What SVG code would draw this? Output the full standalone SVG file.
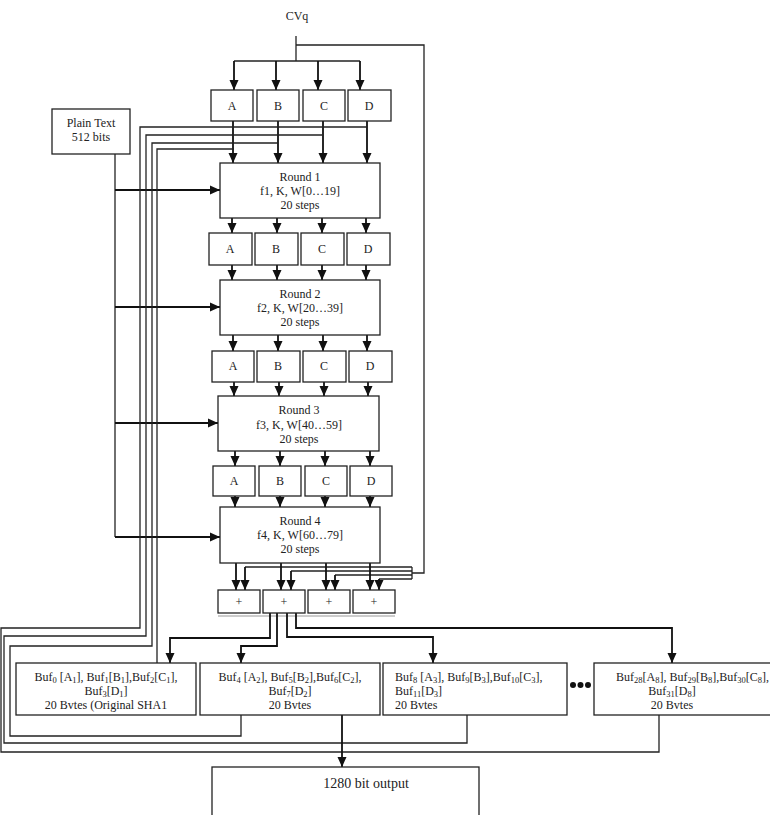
<svg xmlns="http://www.w3.org/2000/svg" width="770" height="815" viewBox="0 0 770 815">
<style>
.box{fill:#fff;stroke:#222;stroke-width:1.3}
.ln{fill:none;stroke:#222;stroke-width:1.3}
.ar{fill:none;stroke:#111;stroke-width:1.8;marker-end:url(#ah)}
.t{font-family:"Liberation Serif","Times New Roman",serif;font-size:12px;fill:#222;text-anchor:middle}
.b{font-family:"Liberation Serif","Times New Roman",serif;font-size:12px;fill:#222}
.s{font-size:8.5px}
</style>
<defs>
<marker id="ah" markerUnits="userSpaceOnUse" markerWidth="10" markerHeight="10" viewBox="0 0 10 10" refX="10" refY="5" orient="auto">
<path d="M0,0.5 L10,5 L0,9.5 Z" fill="#111"/>
</marker>
</defs>

<text class="t" x="297" y="20">CVq</text>

<g id="connectors">
<polyline class="ln" points="296,36 296,61"/>
<polyline class="ln" points="234,61 360,61"/>
<line class="ar" x1="234" y1="61" x2="234" y2="90"/>
<line class="ar" x1="276" y1="61" x2="276" y2="90"/>
<line class="ar" x1="318" y1="61" x2="318" y2="90"/>
<line class="ar" x1="360" y1="61" x2="360" y2="90"/>
<polyline class="ln" points="296,45 424,45 424,573 412,573"/>
<polyline class="ln" points="412,567 412,579"/>
<polyline class="ln" points="245,567 412,567"/>
<polyline class="ln" points="291,571 412,571"/>
<polyline class="ln" points="335,575 412,575"/>
<polyline class="ln" points="379,579 412,579"/>
<line class="ar" x1="245" y1="567" x2="245" y2="590"/>
<line class="ar" x1="291" y1="571" x2="291" y2="590"/>
<line class="ar" x1="335" y1="575" x2="335" y2="590"/>
<line class="ar" x1="379" y1="579" x2="379" y2="590"/>

<line class="ar" x1="233" y1="121" x2="233" y2="163"/>
<line class="ar" x1="278" y1="121" x2="278" y2="163"/>
<line class="ar" x1="323" y1="121" x2="323" y2="163"/>
<line class="ar" x1="367" y1="121" x2="367" y2="163"/>
<line class="ar" x1="232" y1="218" x2="232" y2="233"/>
<line class="ar" x1="277" y1="218" x2="277" y2="233"/>
<line class="ar" x1="322" y1="218" x2="322" y2="233"/>
<line class="ar" x1="366" y1="218" x2="366" y2="233"/>
<line class="ar" x1="232" y1="265" x2="232" y2="280"/>
<line class="ar" x1="277" y1="265" x2="277" y2="280"/>
<line class="ar" x1="322" y1="265" x2="322" y2="280"/>
<line class="ar" x1="366" y1="265" x2="366" y2="280"/>
<line class="ar" x1="233" y1="335" x2="233" y2="351"/>
<line class="ar" x1="278" y1="335" x2="278" y2="351"/>
<line class="ar" x1="323" y1="335" x2="323" y2="351"/>
<line class="ar" x1="367" y1="335" x2="367" y2="351"/>
<line class="ar" x1="234" y1="382" x2="234" y2="396"/>
<line class="ar" x1="279" y1="382" x2="279" y2="396"/>
<line class="ar" x1="324" y1="382" x2="324" y2="396"/>
<line class="ar" x1="368" y1="382" x2="368" y2="396"/>
<line class="ar" x1="235" y1="451" x2="235" y2="466"/>
<line class="ar" x1="280" y1="451" x2="280" y2="466"/>
<line class="ar" x1="325" y1="451" x2="325" y2="466"/>
<line class="ar" x1="370" y1="451" x2="370" y2="466"/>
<line class="ar" x1="235" y1="496" x2="235" y2="507"/>
<line class="ar" x1="280" y1="496" x2="280" y2="507"/>
<line class="ar" x1="325" y1="496" x2="325" y2="507"/>
<line class="ar" x1="370" y1="496" x2="370" y2="507"/>
<line class="ar" x1="236" y1="563" x2="236" y2="590"/>
<line class="ar" x1="281" y1="563" x2="281" y2="590"/>
<line class="ar" x1="326" y1="563" x2="326" y2="590"/>
<line class="ar" x1="370" y1="563" x2="370" y2="590"/>

<polyline class="ln" points="115,154 115,537"/>
<line class="ar" x1="115" y1="190" x2="220" y2="190"/>
<line class="ar" x1="115" y1="307" x2="220" y2="307"/>
<line class="ar" x1="115" y1="423" x2="218" y2="423"/>
<line class="ar" x1="115" y1="537" x2="220" y2="537"/>

<polyline class="ln" points="367,127 140,127 140,628 1,628 1,752 659,752 659,715"/>
<polyline class="ln" points="322,135 146,135 146,636 4,636 4,743 467,743 467,715"/>
<polyline class="ln" points="278,143 152,143 152,646 10,646 10,736 241,736 241,715"/>
<polyline class="ln" points="234,149 157,149 157,663"/>

<line x1="218" y1="616" x2="395" y2="616" stroke="#999" stroke-width="1"/>
<polyline class="ar" points="270,613 270,638 170,638 170,663"/>
<polyline class="ar" points="277,613 277,646 241,646 241,663"/>
<polyline class="ar" points="287,613 287,637 433,637 433,663"/>
<polyline class="ar" points="296,613 296,628 672,628 672,663"/>

<line class="ar" x1="342" y1="715" x2="342" y2="767"/>
</g>

<g id="cv-A"><rect class="box" x="211" y="90" width="42" height="31"/><text class="t" x="232" y="110">A</text></g>
<g id="cv-B"><rect class="box" x="257" y="90" width="42" height="31"/><text class="t" x="278" y="110">B</text></g>
<g id="cv-C"><rect class="box" x="303" y="90" width="42" height="31"/><text class="t" x="324" y="110">C</text></g>
<g id="cv-D"><rect class="box" x="348" y="90" width="43" height="31"/><text class="t" x="369" y="110">D</text></g>

<g id="plain-text"><rect class="box" x="52" y="109" width="78" height="45"/><text class="t" x="91" y="127">Plain Text</text><text class="t" x="91" y="141">512 bits</text></g>

<g id="round1"><rect class="box" x="220" y="163" width="160" height="55"/><text class="t" x="300" y="181">Round 1</text><text class="t" x="300" y="195">f1, K, W[0…19]</text><text class="t" x="300" y="209">20 steps</text></g>

<g id="r2-A"><rect class="box" x="209" y="233" width="43" height="32"/><text class="t" x="230" y="253">A</text></g>
<g id="r2-B"><rect class="box" x="255" y="233" width="43" height="32"/><text class="t" x="276" y="253">B</text></g>
<g id="r2-C"><rect class="box" x="301" y="233" width="43" height="32"/><text class="t" x="322" y="253">C</text></g>
<g id="r2-D"><rect class="box" x="347" y="233" width="43" height="32"/><text class="t" x="368" y="253">D</text></g>

<g id="round2"><rect class="box" x="220" y="280" width="160" height="55"/><text class="t" x="300" y="298">Round 2</text><text class="t" x="300" y="312">f2, K, W[20…39]</text><text class="t" x="300" y="326">20 steps</text></g>

<g id="r3-A"><rect class="box" x="212" y="351" width="42" height="31"/><text class="t" x="233" y="370">A</text></g>
<g id="r3-B"><rect class="box" x="257" y="351" width="43" height="31"/><text class="t" x="278" y="370">B</text></g>
<g id="r3-C"><rect class="box" x="303" y="351" width="43" height="31"/><text class="t" x="324" y="370">C</text></g>
<g id="r3-D"><rect class="box" x="349" y="351" width="43" height="31"/><text class="t" x="370" y="370">D</text></g>

<g id="round3"><rect class="box" x="218" y="396" width="161" height="55"/><text class="t" x="299" y="414">Round 3</text><text class="t" x="299" y="429">f3, K, W[40…59]</text><text class="t" x="299" y="443">20 steps</text></g>

<g id="r4-A"><rect class="box" x="213" y="466" width="42" height="30"/><text class="t" x="234" y="485">A</text></g>
<g id="r4-B"><rect class="box" x="259" y="466" width="42" height="30"/><text class="t" x="280" y="485">B</text></g>
<g id="r4-C"><rect class="box" x="305" y="466" width="42" height="30"/><text class="t" x="326" y="485">C</text></g>
<g id="r4-D"><rect class="box" x="350" y="466" width="42" height="30"/><text class="t" x="371" y="485">D</text></g>

<g id="round4"><rect class="box" x="220" y="507" width="160" height="56"/><text class="t" x="300" y="525">Round 4</text><text class="t" x="300" y="539">f4, K, W[60…79]</text><text class="t" x="300" y="553">20 steps</text></g>

<g id="plus1"><rect class="box" x="218" y="590" width="42" height="23"/><text class="t" x="239" y="606">+</text></g>
<g id="plus2"><rect class="box" x="263" y="590" width="42" height="23"/><text class="t" x="284" y="606">+</text></g>
<g id="plus3"><rect class="box" x="308" y="590" width="42" height="23"/><text class="t" x="329" y="606">+</text></g>
<g id="plus4"><rect class="box" x="353" y="590" width="42" height="23"/><text class="t" x="374" y="606">+</text></g>

<g id="buf0"><rect class="box" x="16" y="663" width="180" height="52"/>
<text class="b" text-anchor="middle" x="106" y="681">Buf<tspan class="s" dy="2">0</tspan><tspan dy="-2"> [A</tspan><tspan class="s" dy="2">1</tspan><tspan dy="-2">], Buf</tspan><tspan class="s" dy="2">1</tspan><tspan dy="-2">[B</tspan><tspan class="s" dy="2">1</tspan><tspan dy="-2">],Buf</tspan><tspan class="s" dy="2">2</tspan><tspan dy="-2">[C</tspan><tspan class="s" dy="2">1</tspan><tspan dy="-2">],</tspan></text>
<text class="b" text-anchor="middle" x="106" y="695">Buf<tspan class="s" dy="2">3</tspan><tspan dy="-2">[D</tspan><tspan class="s" dy="2">1</tspan><tspan dy="-2">]</tspan></text>
<text class="b" text-anchor="middle" x="106" y="709">20 Bvtes (Original SHA1</text>
</g>

<g id="buf4"><rect class="box" x="200" y="663" width="180" height="52"/>
<text class="b" text-anchor="middle" x="290" y="681">Buf<tspan class="s" dy="2">4</tspan><tspan dy="-2"> [A</tspan><tspan class="s" dy="2">2</tspan><tspan dy="-2">], Buf</tspan><tspan class="s" dy="2">5</tspan><tspan dy="-2">[B</tspan><tspan class="s" dy="2">2</tspan><tspan dy="-2">],Buf</tspan><tspan class="s" dy="2">6</tspan><tspan dy="-2">[C</tspan><tspan class="s" dy="2">2</tspan><tspan dy="-2">],</tspan></text>
<text class="b" text-anchor="middle" x="290" y="695">Buf<tspan class="s" dy="2">7</tspan><tspan dy="-2">[D</tspan><tspan class="s" dy="2">2</tspan><tspan dy="-2">]</tspan></text>
<text class="b" text-anchor="middle" x="290" y="709">20 Bvtes</text>
</g>

<g id="buf8"><rect class="box" x="383" y="663" width="184" height="52"/>
<text class="b" x="395" y="681">Buf<tspan class="s" dy="2">8</tspan><tspan dy="-2"> [A</tspan><tspan class="s" dy="2">3</tspan><tspan dy="-2">], Buf</tspan><tspan class="s" dy="2">9</tspan><tspan dy="-2">[B</tspan><tspan class="s" dy="2">3</tspan><tspan dy="-2">],Buf</tspan><tspan class="s" dy="2">10</tspan><tspan dy="-2">[C</tspan><tspan class="s" dy="2">3</tspan><tspan dy="-2">],</tspan></text>
<text class="b" x="395" y="695">Buf<tspan class="s" dy="2">11</tspan><tspan dy="-2">[D</tspan><tspan class="s" dy="2">3</tspan><tspan dy="-2">]</tspan></text>
<text class="b" x="395" y="709">20 Bvtes</text>
</g>

<g id="ellipsis"><circle cx="573" cy="685" r="3" fill="#111"/><circle cx="580.5" cy="685" r="3" fill="#111"/><circle cx="588" cy="685" r="3" fill="#111"/></g>

<g id="buf28"><rect class="box" x="594" y="663" width="190" height="52"/>
<text class="b" x="616" y="681">Buf<tspan class="s" dy="2">28</tspan><tspan dy="-2">[A</tspan><tspan class="s" dy="2">8</tspan><tspan dy="-2">], Buf</tspan><tspan class="s" dy="2">29</tspan><tspan dy="-2">[B</tspan><tspan class="s" dy="2">8</tspan><tspan dy="-2">],Buf</tspan><tspan class="s" dy="2">30</tspan><tspan dy="-2">[C</tspan><tspan class="s" dy="2">8</tspan><tspan dy="-2">],</tspan></text>
<text class="b" text-anchor="middle" x="672" y="695">Buf<tspan class="s" dy="2">31</tspan><tspan dy="-2">[D</tspan><tspan class="s" dy="2">8</tspan><tspan dy="-2">]</tspan></text>
<text class="b" text-anchor="middle" x="672" y="709">20 Bvtes</text>
</g>

<g id="output"><rect class="box" x="212" y="767" width="267" height="60"/><text class="t" x="366" y="788" style="font-size:14px">1280 bit output</text></g>
</svg>
